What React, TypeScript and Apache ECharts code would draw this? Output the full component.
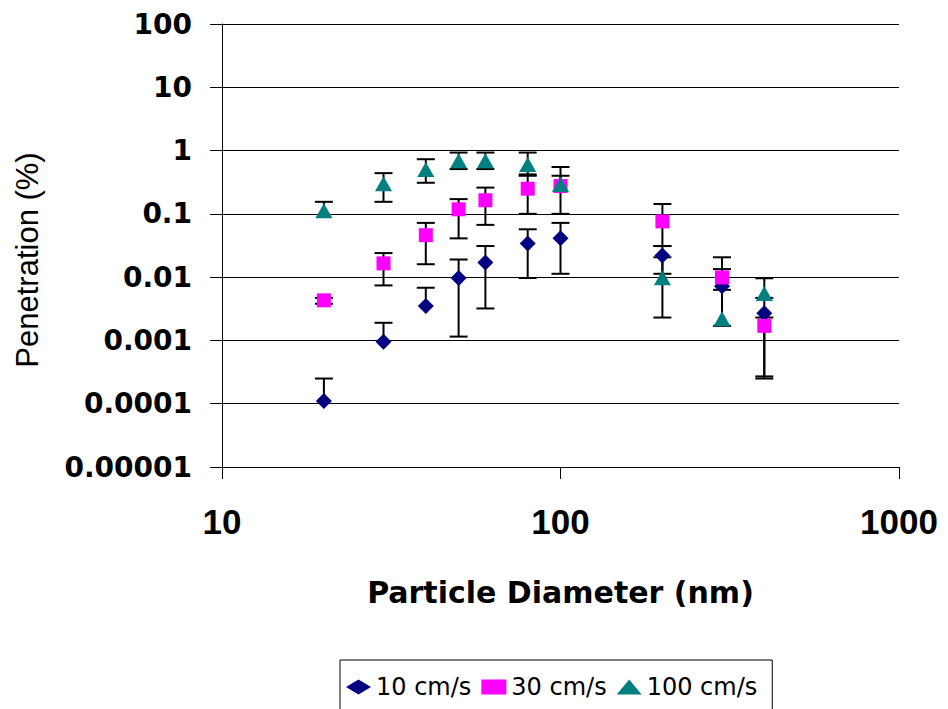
import React, { useEffect, useRef } from "react";
import * as echarts from "echarts";

// Particle diameters (nm)
const DIAMETERS = [20, 30, 40, 50, 60, 80, 100, 200, 300, 400];

// Penetration (%) for 10 cm/s
const PEN_10 = [0.00011, 0.00095, 0.0035, 0.0097, 0.017, 0.034, 0.041, 0.022, 0.0072, 0.0027];
const PEN_10_LOW = [null, null, null, 0.00115, 0.0032, 0.0097, 0.0113, 0.0113, 0.0017, 0.00027];
const PEN_10_HIGH = [0.00025, 0.0019, 0.0068, 0.019, 0.031, 0.057, 0.072, 0.031, 0.0134, 0.0047];

// Penetration (%) for 30 cm/s
const PEN_30 = [0.0043, 0.0165, 0.046, 0.118, 0.164, 0.25, 0.275, 0.076, 0.0099, 0.0017];
const PEN_30_LOW = [0.0038, 0.0074, 0.016, 0.041, 0.067, 0.1, 0.1, 0.031, null, 0.00025];
const PEN_30_HIGH = [0.0047, 0.024, 0.072, 0.171, 0.26, 0.4, 0.55, 0.143, 0.0206, 0.0023];

// Penetration (%) for 100 cm/s
const PEN_100 = [0.112, 0.3, 0.5, 0.69, 0.69, 0.6, 0.29, 0.0098, 0.0022, 0.0055];
const PEN_100_LOW = [null, 0.155, 0.31, 0.51, 0.51, 0.42, null, 0.0023, null, null];
const PEN_100_HIGH = [0.155, 0.44, 0.73, 0.93, 0.93, 0.93, 0.4, 0.0206, 0.0063, 0.0096];

const SERIES_NAMES = ["10 cm/s", "30 cm/s", "100 cm/s"];
const X_TICK_LABELS = ["10", "100", "1000"];
const Y_TICK_LABELS = ["0.00001", "0.0001", "0.001", "0.01", "0.1", "1", "10", "100"];

const errData = (vals: number[], lows: (number | null)[], highs: (number | null)[]) =>
  DIAMETERS.map((d, i) => [d, vals[i], lows[i] == null ? 0 : lows[i], highs[i] == null ? 0 : highs[i]]);

const renderErr = (params: any, api: any) => {
  const x = Number(api.value(0));
  const v = Number(api.value(1));
  const lo = Number(api.value(2));
  const hi = Number(api.value(3));
  const cap = 9;
  const children: any[] = [];
  const style = { stroke: "#000", lineWidth: 2 };
  const c = api.coord([x, v]);
  let top = c;
  let bottom = c;
  if (Number.isFinite(hi) && hi > 0) {
    top = api.coord([x, hi]);
    children.push({ type: "line", shape: { x1: top[0] - cap, y1: top[1], x2: top[0] + cap, y2: top[1] }, style });
  }
  if (Number.isFinite(lo) && lo > 0) {
    bottom = api.coord([x, lo]);
    children.push({ type: "line", shape: { x1: bottom[0] - cap, y1: bottom[1], x2: bottom[0] + cap, y2: bottom[1] }, style });
  }
  children.push({ type: "line", shape: { x1: c[0], y1: top[1], x2: c[0], y2: bottom[1] }, style });
  return { type: "group", children };
};

export default function App() {
  const ref = useRef<HTMLDivElement>(null);
  useEffect(() => {
    if (!ref.current) return;
    const chart = echarts.init(ref.current, null, { renderer: "svg" });
    const scatterBase = { type: "scatter", z: 5, emphasis: { disabled: true } };
    chart.setOption({
      animation: false,
      backgroundColor: "#fff",
      grid: { left: 222, right: 49, top: 24, bottom: 242, containLabel: false, outerBoundsMode: "none" },
      xAxis: {
        type: "log",
        logBase: 10,
        min: 10,
        max: 1000,
        name: "Particle Diameter (nm)",
        nameLocation: "middle",
        nameGap: 110,
        nameTextStyle: { fontFamily: "DejaVu Sans", fontWeight: "bold", fontSize: 30, color: "#000" },
        axisLine: { lineStyle: { color: "#000", width: 1 } },
        axisTick: { show: true, length: 12, inside: false, lineStyle: { color: "#000" } },
        minorTick: { show: false },
        splitLine: { show: false },
        axisLabel: {
          margin: 37,
          fontFamily: "Liberation Sans",
          fontWeight: "bold",
          fontSize: 35,
          color: "#000",
          formatter: (v: number) => X_TICK_LABELS[Math.round(Math.log10(v)) - 1] ?? "",
        },
      },
      yAxis: {
        type: "log",
        logBase: 10,
        min: 0.00001,
        max: 100,
        axisLine: { show: true, lineStyle: { color: "#000", width: 1 } },
        axisTick: { show: true, length: 12, inside: false, lineStyle: { color: "#000" } },
        splitLine: { show: true, lineStyle: { color: "#000", width: 1 } },
        axisLabel: {
          margin: 30,
          fontFamily: "DejaVu Sans",
          fontWeight: "bold",
          fontSize: 28,
          color: "#000",
          formatter: (v: number) => Y_TICK_LABELS[Math.round(Math.log10(v)) + 5] ?? "",
        },
      },
      legend: {
        data: SERIES_NAMES,
        left: 340,
        top: 660,
        orient: "horizontal",
        padding: [15, 15, 40, 6],
        itemWidth: 25,
        itemHeight: 15,
        itemGap: 10,
        borderColor: "#000",
        borderWidth: 1,
        textStyle: { fontFamily: "DejaVu Sans", fontSize: 24, color: "#000" },
      },
      graphic: [
        {
          type: "text",
          x: 27,
          y: 260,
          rotation: Math.PI / 2,
          style: {
            text: "Penetration (%)",
            fontFamily: "Liberation Sans",
            fontSize: 31,
            fill: "#000",
            textAlign: "center",
            textVerticalAlign: "middle",
          },
        },
      ],
      series: [
        { type: "custom", name: "err10", z: 2, renderItem: renderErr, encode: { x: 0, y: [1, 2, 3] }, data: errData(PEN_10, PEN_10_LOW, PEN_10_HIGH) },
        { type: "custom", name: "err30", z: 2, renderItem: renderErr, encode: { x: 0, y: [1, 2, 3] }, data: errData(PEN_30, PEN_30_LOW, PEN_30_HIGH) },
        { type: "custom", name: "err100", z: 2, renderItem: renderErr, encode: { x: 0, y: [1, 2, 3] }, data: errData(PEN_100, PEN_100_LOW, PEN_100_HIGH) },
        {
          ...scatterBase,
          name: SERIES_NAMES[0],
          symbol: "diamond",
          symbolSize: [16, 16],
          itemStyle: { color: "#000080", opacity: 1 },
          data: DIAMETERS.map((d, i) => [d, PEN_10[i]]),
        },
        {
          ...scatterBase,
          name: SERIES_NAMES[1],
          symbol: "rect",
          symbolSize: [14, 14],
          itemStyle: { color: "#FF00FF", opacity: 1 },
          data: DIAMETERS.map((d, i) => [d, PEN_30[i]]),
        },
        {
          ...scatterBase,
          name: SERIES_NAMES[2],
          symbol: "triangle",
          symbolSize: [17, 15],
          itemStyle: { color: "#008080", opacity: 1 },
          data: DIAMETERS.map((d, i) => [d, PEN_100[i]]),
        },
      ],
    });
    return () => chart.dispose();
  }, []);
  return <div ref={ref} style={{ position: "fixed", left: 0, top: 0, width: 948, height: 709 }} />;
}
